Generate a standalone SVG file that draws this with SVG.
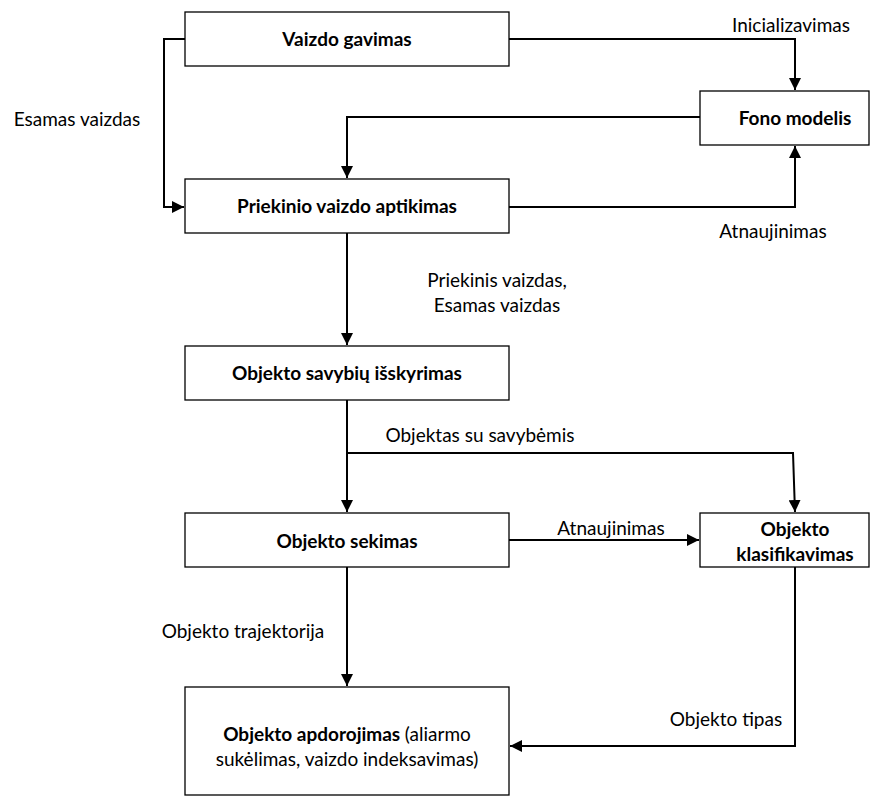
<svg xmlns="http://www.w3.org/2000/svg" width="880" height="800" viewBox="0 0 880 800">
  <style>
    .box { fill: #ffffff; stroke: #000000; stroke-width: 1.3; }
    .title { font-family: Lato, "Open Sans", sans-serif; font-size: 19px; font-weight: bold; fill: #000; text-anchor: middle; }
    .plain { font-weight: normal; }
    .lbl { font-family: Lato, "Open Sans", sans-serif; font-size: 19px; fill: #000; text-anchor: middle; }
    .wire { fill: none; stroke: #000; stroke-width: 2; }
  </style>
  <defs>
    <marker id="arrow" viewBox="0 0 12 12" refX="12" refY="6" markerWidth="12" markerHeight="12" markerUnits="userSpaceOnUse" orient="auto">
      <path d="M0,0 L12,6 L0,12 Z" fill="#000"/>
    </marker>
  </defs>
  <rect width="880" height="800" fill="#ffffff"/>

  <g id="connectors">
    <path class="wire" d="M185,39 H164 V207 H184" marker-end="url(#arrow)"/>
    <path class="wire" d="M509,39 H795 V90" marker-end="url(#arrow)"/>
    <path class="wire" d="M700,117 H347 V178" marker-end="url(#arrow)"/>
    <path class="wire" d="M509,207 H795 V146" marker-end="url(#arrow)"/>
    <path class="wire" d="M347,233 V345" marker-end="url(#arrow)"/>
    <path class="wire" d="M347,400 V512" marker-end="url(#arrow)"/>
    <path class="wire" d="M347,453 H793 L795,512" marker-end="url(#arrow)"/>
    <path class="wire" d="M509,540 H699" marker-end="url(#arrow)"/>
    <path class="wire" d="M347,567 V686" marker-end="url(#arrow)"/>
    <path class="wire" d="M795,567 V746 H510" marker-end="url(#arrow)"/>
    <text class="lbl" x="791" y="32">Inicializavimas</text>
    <text class="lbl" x="77" y="126">Esamas vaizdas</text>
    <text class="lbl" x="773" y="238">Atnaujinimas</text>
    <text class="lbl" x="497" y="287">Priekinis vaizdas,</text>
    <text class="lbl" x="497" y="312">Esamas vaizdas</text>
    <text class="lbl" x="480" y="442">Objektas su savybėmis</text>
    <text class="lbl" x="611" y="535">Atnaujinimas</text>
    <text class="lbl" x="243" y="638">Objekto trajektorija</text>
    <text class="lbl" x="726" y="726">Objekto tipas</text>
  </g>

  <g id="vaizdo-gavimas">
    <rect class="box" x="185" y="12" width="324" height="54"/>
    <text class="title" x="347" y="46">Vaizdo gavimas</text>
  </g>
  <g id="fono-modelis">
    <rect class="box" x="700" y="91" width="169" height="54"/>
    <text class="title" x="795" y="125">Fono modelis</text>
  </g>
  <g id="priekinio-vaizdo-aptikimas">
    <rect class="box" x="185" y="179" width="324" height="54"/>
    <text class="title" x="347" y="213">Priekinio vaizdo aptikimas</text>
  </g>
  <g id="objekto-savybiu-isskyrimas">
    <rect class="box" x="185" y="346" width="324" height="54"/>
    <text class="title" x="347" y="380">Objekto savybių išskyrimas</text>
  </g>
  <g id="objekto-sekimas">
    <rect class="box" x="185" y="513" width="324" height="54"/>
    <text class="title" x="347" y="548">Objekto sekimas</text>
  </g>
  <g id="objekto-klasifikavimas">
    <rect class="box" x="700" y="513" width="169" height="54"/>
    <text class="title" x="795" y="536">Objekto</text>
    <text class="title" x="795" y="561">klasifikavimas</text>
  </g>
  <g id="objekto-apdorojimas">
    <rect class="box" x="185" y="687" width="324" height="108"/>
    <text class="title" x="347" y="741">Objekto apdorojimas <tspan class="plain">(aliarmo</tspan></text>
    <text class="lbl" x="347" y="766">sukėlimas, vaizdo indeksavimas)</text>
  </g>
</svg>
